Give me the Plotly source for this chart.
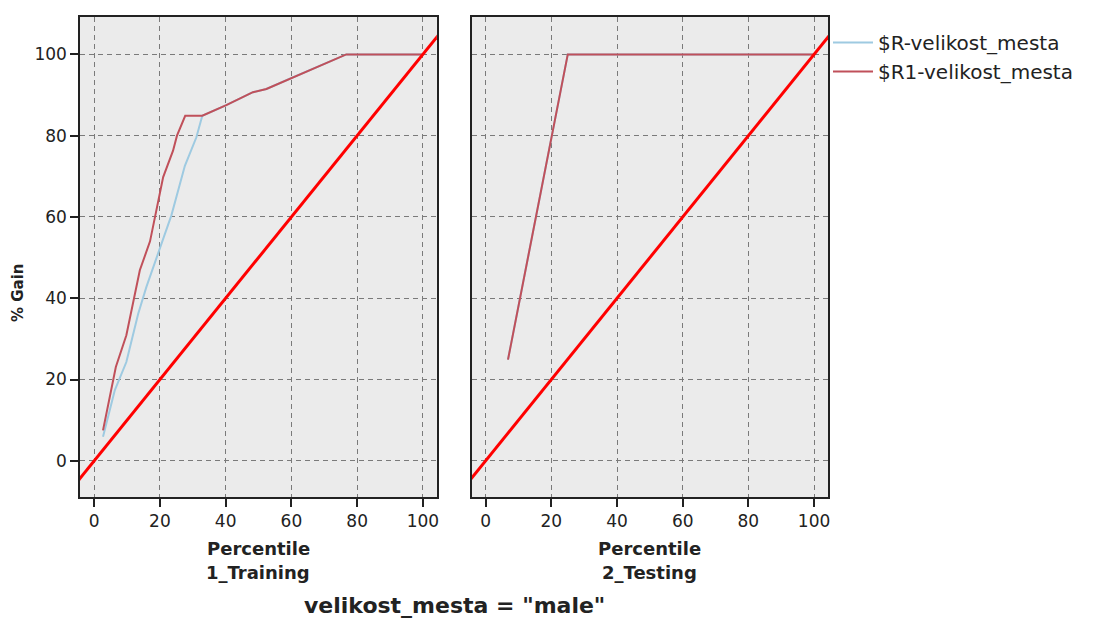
import plotly.graph_objects as go

# ---- data ----
train_pct_R = [2.7, 6.3, 9.8, 13.4, 15.9, 18.4, 20.0, 23.5, 27.6, 31.1, 32.9, 40.2, 48.3, 52.4, 59.5, 66.6, 72.6, 76.7, 100]
train_gain_R = [5.9, 17.4, 24.3, 36.2, 42.8, 48.5, 52.6, 60.4, 72.6, 79.6, 84.9, 87.5, 90.7, 91.5, 94.0, 96.4, 98.5, 100, 100]

train_pct_R1 = [2.7, 6.6, 9.8, 13.9, 17.0, 18.6, 21.0, 24.0, 25.2, 27.7, 32.9, 40.2, 48.3, 52.4, 59.5, 66.6, 72.6, 76.7, 100]
train_gain_R1 = [7.5, 23.1, 30.9, 46.9, 54.0, 60.4, 69.8, 76.3, 80.0, 84.9, 84.9, 87.5, 90.7, 91.5, 94.0, 96.4, 98.5, 100, 100]

test_pct_R = [6.8, 25.0, 100]
test_gain_R = [24.9, 100, 100]
test_pct_R1 = [6.8, 25.0, 100]
test_gain_R1 = [24.9, 100, 100]

baseline_pct = [-10, 110]
baseline_gain = [-10, 110]

x_ticks = [0, 20, 40, 60, 80, 100]
y_ticks = [0, 20, 40, 60, 80, 100]

series_names = ["$R-velikost_mesta", "$R1-velikost_mesta"]
panel_titles = ["1_Training", "2_Testing"]
axis_title_x = "Percentile"
axis_title_y = "% Gain"
facet_title = 'velikost_mesta = "male"'

# ---- styles ----
BLUE = "#9ecae1"
DARKRED = "#c0505a"
BRIGHTRED = "#ff0000"
BG = "#ebebeb"
GRID = "#7a7a7a"
DASH = "5px,4px"
FONT = "DejaVu Sans"

fig = go.Figure()

# training panel
fig.add_trace(go.Scatter(x=train_pct_R, y=train_gain_R, mode="lines", name=series_names[0],
                         line=dict(color=BLUE, width=2), xaxis="x", yaxis="y", legendgroup="a"))
fig.add_trace(go.Scatter(x=train_pct_R1, y=train_gain_R1, mode="lines", name=series_names[1],
                         line=dict(color=DARKRED, width=2), xaxis="x", yaxis="y", legendgroup="b"))
fig.add_trace(go.Scatter(x=baseline_pct, y=baseline_gain, mode="lines", showlegend=False,
                         line=dict(color=BRIGHTRED, width=3), xaxis="x", yaxis="y"))
# testing panel
fig.add_trace(go.Scatter(x=test_pct_R, y=test_gain_R, mode="lines", showlegend=False,
                         line=dict(color=BLUE, width=2), xaxis="x2", yaxis="y2", legendgroup="a"))
fig.add_trace(go.Scatter(x=test_pct_R1, y=test_gain_R1, mode="lines", showlegend=False,
                         line=dict(color=DARKRED, width=2), xaxis="x2", yaxis="y2", legendgroup="b"))
fig.add_trace(go.Scatter(x=baseline_pct, y=baseline_gain, mode="lines", showlegend=False,
                         line=dict(color=BRIGHTRED, width=3), xaxis="x2", yaxis="y2"))

OFF = 8  # page body margin
W, H = 1097 - OFF, 619 - OFF
L, R, T, B = 80 - OFF, 828.3 - OFF, 15 - OFF, 496.7 - OFF
pw = R - L
ph = B - T
d1 = [0, (437 - OFF - L) / pw]
d2 = [(471.7 - OFF - L) / pw, 1]

xr = [-4.3, 104.25]
yr = [-8.9, 109.2]

common_x = dict(range=xr, tickvals=x_ticks, showgrid=True, gridcolor=GRID, griddash=DASH, gridwidth=1,
                showline=True, linecolor="#222", linewidth=1.5, mirror=True, ticks="outside",
                ticklen=8, tickwidth=1.5, tickcolor="#222", zeroline=False,
                tickfont=dict(family=FONT, size=17, color="#222"), fixedrange=True)
common_y = dict(range=yr, tickvals=y_ticks, showgrid=True, gridcolor=GRID, griddash=DASH, gridwidth=1,
                showline=True, linecolor="#222", linewidth=1.5, mirror=True, zeroline=False, fixedrange=True)

fig.update_layout(
    width=W, height=H,
    margin=dict(l=L, r=W - R, t=T, b=H - B),
    paper_bgcolor="white", plot_bgcolor=BG,
    font=dict(family=FONT, color="#222"),
    xaxis=dict(domain=d1, anchor="y", **common_x),
    xaxis2=dict(domain=d2, anchor="y2", **common_x),
    yaxis=dict(anchor="x", ticks="outside", ticklen=8, tickwidth=1.5, tickcolor="#222",
               tickfont=dict(family=FONT, size=17, color="#222"), **common_y),
    yaxis2=dict(anchor="x2", showticklabels=False, ticks="", **common_y),
    showlegend=True,
    legend=dict(x=1.0, xanchor="left", y=1.0 - (21 - OFF - T) / ph, yanchor="top",
                font=dict(family=FONT, size=20, color="#222"), bgcolor="rgba(0,0,0,0)",
                tracegroupgap=0, itemwidth=40, borderwidth=0),
)

def px_x(px):
    return (px - OFF - L) / pw

def px_y(py):
    return (B - (py - OFF)) / ph

annos = [
    dict(text="<b>%s</b>" % axis_title_x, x=(d1[0] + d1[1]) / 2, y=px_y(548)),
    dict(text="<b>%s</b>" % panel_titles[0], x=(d1[0] + d1[1]) / 2, y=px_y(572)),
    dict(text="<b>%s</b>" % axis_title_x, x=(d2[0] + d2[1]) / 2, y=px_y(548)),
    dict(text="<b>%s</b>" % panel_titles[1], x=(d2[0] + d2[1]) / 2, y=px_y(572)),
]
for a in annos:
    fig.add_annotation(xref="paper", yref="paper", showarrow=False, xanchor="center", yanchor="middle",
                       font=dict(family=FONT, size=18, color="#222"), **a)

fig.add_annotation(text="<b>%s</b>" % facet_title, xref="paper", yref="paper", x=0.5, y=px_y(606),
                   showarrow=False, xanchor="center", yanchor="middle",
                   font=dict(family=FONT, size=22, color="#222"))
fig.add_annotation(text="<b>%s</b>" % axis_title_y, xref="paper", yref="paper", x=px_x(18), y=px_y(292),
                   showarrow=False, textangle=-90, xanchor="center", yanchor="middle",
                   font=dict(family=FONT, size=15, color="#222"))

fig.write_html("out.html")
